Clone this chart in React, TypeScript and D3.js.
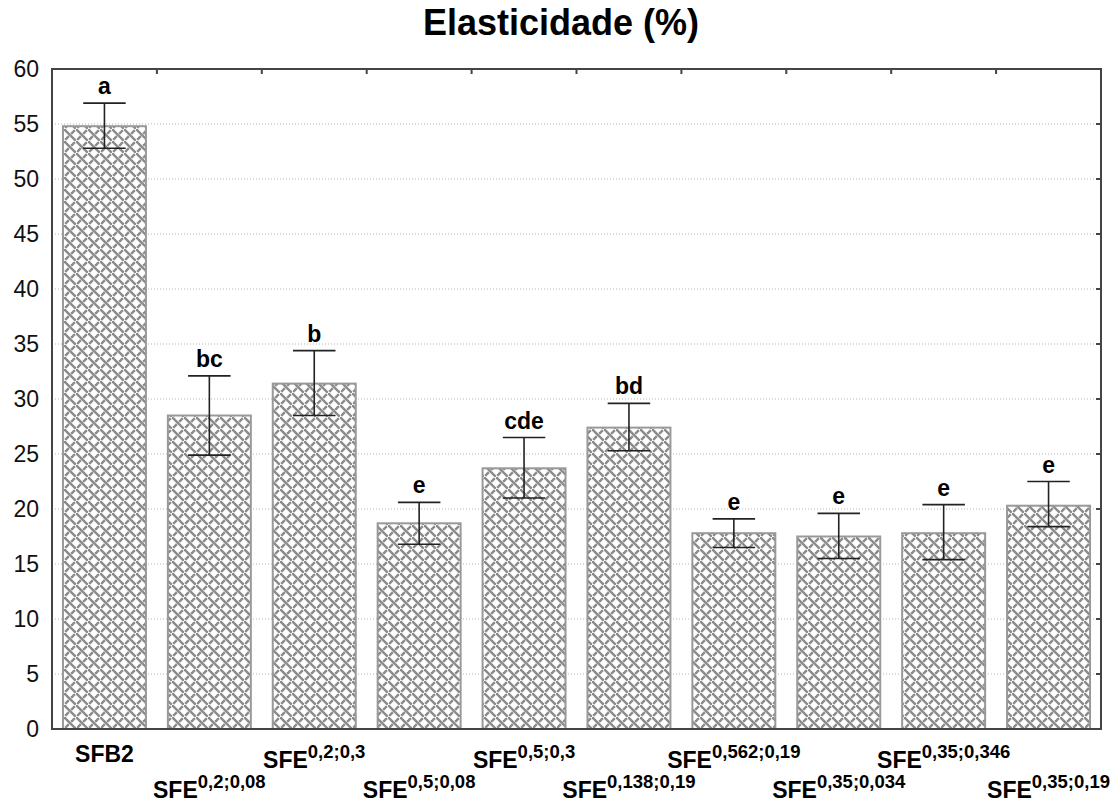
import { useEffect, useRef } from 'react';
import * as d3 from 'd3';

const bases = ['SFB2', 'SFE', 'SFE', 'SFE', 'SFE', 'SFE', 'SFE', 'SFE', 'SFE', 'SFE'];
const sups = ['', '0,2;0,08', '0,2;0,3', '0,5;0,08', '0,5;0,3', '0,138;0,19', '0,562;0,19', '0,35;0,034', '0,35;0,346', '0,35;0,19'];
const means = [54.8, 28.5, 31.4, 18.7, 23.7, 27.4, 17.8, 17.5, 17.8, 20.3];
const upper = [56.9, 32.1, 34.4, 20.6, 26.5, 29.6, 19.1, 19.6, 20.4, 22.5];
const lower = [52.8, 24.9, 28.5, 16.8, 21.0, 25.3, 16.5, 15.5, 15.4, 18.4];
const letters = ['a', 'bc', 'b', 'e', 'cde', 'bd', 'e', 'e', 'e', 'e'];
const yTicks = [0, 5, 10, 15, 20, 25, 30, 35, 40, 45, 50, 55, 60];

export default function App() {
  const ref = useRef<SVGSVGElement>(null);

  useEffect(() => {
    document.body.style.margin = '0';
    const svg = d3.select(ref.current);
    svg.selectAll('*').remove();

    const width = 1115, height = 802;
    const margin = { top: 69, right: 14, bottom: 73, left: 52 };
    const w = width - margin.left - margin.right;
    const h = height - margin.top - margin.bottom;
    const font = 'Arial, "Liberation Sans", sans-serif';

    // weave-like fill
    const defs = svg.append('defs');
    const pat = defs.append('pattern').attr('id', 'weave')
      .attr('patternUnits', 'userSpaceOnUse').attr('width', 12).attr('height', 12);
    pat.append('rect').attr('width', 12).attr('height', 12).attr('fill', '#fff');
    const pg = pat.append('g').attr('stroke', '#8a8a8a').attr('stroke-width', 2.4).attr('stroke-linecap', 'square');
    pg.append('line').attr('x1', 0.5).attr('y1', 0.5).attr('x2', 5).attr('y2', 5);
    pg.append('line').attr('x1', 6.5).attr('y1', 6.5).attr('x2', 11).attr('y2', 11);
    pg.append('line').attr('x1', 8).attr('y1', 4).attr('x2', 10).attr('y2', 2);
    pg.append('line').attr('x1', 2).attr('y1', 10).attr('x2', 4).attr('y2', 8);

    svg.append('text').attr('x', 561).attr('y', 35).attr('text-anchor', 'middle')
      .style('font-family', font).style('font-weight', 'bold').style('font-size', '36px')
      .text('Elasticidade (%)');

    const g = svg.append('g').attr('transform', `translate(${margin.left},${margin.top})`);

    const x = d3.scaleBand<number>().domain(d3.range(means.length)).range([0, w])
      .paddingInner(0.19).paddingOuter(0.095);
    const y = d3.scaleLinear().domain([0, 60]).range([h, 0]);

    // gridlines
    g.append('g').selectAll('line').data(yTicks.slice(1, -1)).enter().append('line')
      .attr('x1', 0).attr('x2', w).attr('y1', d => y(d)).attr('y2', d => y(d))
      .attr('stroke', '#b5b5b5').attr('stroke-width', 1).attr('stroke-dasharray', '1,2');

    // bars
    g.append('g').selectAll('rect').data(means).enter().append('rect')
      .attr('x', (_, i) => x(i)! + 1).attr('y', d => y(d))
      .attr('width', x.bandwidth() - 2).attr('height', d => h - y(d))
      .attr('fill', 'url(#weave)').attr('stroke', '#999').attr('stroke-width', 2);

    // error bars
    const cap = x.bandwidth() * 0.5;
    const eb = g.append('g').attr('stroke', '#222').attr('stroke-width', 1.6);
    means.forEach((_, i) => {
      const cx = x(i)! + x.bandwidth() / 2;
      eb.append('line').attr('x1', cx).attr('x2', cx).attr('y1', y(upper[i])).attr('y2', y(lower[i]));
      eb.append('line').attr('x1', cx - cap / 2).attr('x2', cx + cap / 2).attr('y1', y(upper[i])).attr('y2', y(upper[i]));
      eb.append('line').attr('x1', cx - cap / 2).attr('x2', cx + cap / 2).attr('y1', y(lower[i])).attr('y2', y(lower[i]));
    });

    // letters
    g.append('g').selectAll('text').data(letters).enter().append('text')
      .attr('x', (_, i) => x(i)! + x.bandwidth() / 2).attr('y', (_, i) => y(upper[i]) - 9)
      .attr('text-anchor', 'middle').style('font-family', font).style('font-weight', 'bold')
      .style('font-size', '23px').attr('fill', '#000').text(d => d);

    // frame
    const frame = g.append('g').attr('stroke', '#444').attr('stroke-width', 2).attr('fill', 'none');
    frame.append('rect').attr('x', 0).attr('y', 0).attr('width', w).attr('height', h);

    // top ticks at band boundaries
    frame.selectAll('.tt').data(d3.range(1, means.length)).enter().append('line')
      .attr('x1', i => x(i)! - x.step() * 0.095).attr('x2', i => x(i)! - x.step() * 0.095)
      .attr('y1', 0).attr('y2', 5);

    // right ticks
    frame.selectAll('.rt').data(yTicks.slice(1, -1)).enter().append('line')
      .attr('x1', w).attr('x2', w - 5).attr('y1', d => y(d)).attr('y2', d => y(d));

    // y tick labels
    g.append('g').selectAll('text').data(yTicks).enter().append('text')
      .attr('x', -13).attr('y', d => y(d)).attr('dy', '0.36em').attr('text-anchor', 'end')
      .style('font-family', font).style('font-size', '23px').attr('fill', '#111')
      .text(d => d);

    // x labels, staggered
    const xl = g.append('g').style('font-family', font).style('font-weight', 'bold').attr('fill', '#000');
    bases.forEach((b, i) => {
      const cx = x(i)! + x.bandwidth() / 2;
      const base = h + (i % 2 === 0 ? 39 : 69) + (sups[i] ? 0 : -6);
      const t = xl.append('text').attr('x', cx).attr('y', base).attr('text-anchor', 'middle');
      t.append('tspan').style('font-size', '23px').text(b);
      if (sups[i]) {
        t.append('tspan').attr('dy', -10).style('font-size', '18.5px').text(sups[i]);
      }
    });
  }, []);

  return <svg ref={ref} width={1115} height={802} style={{ display: 'block', background: '#fff' }} />;
}
